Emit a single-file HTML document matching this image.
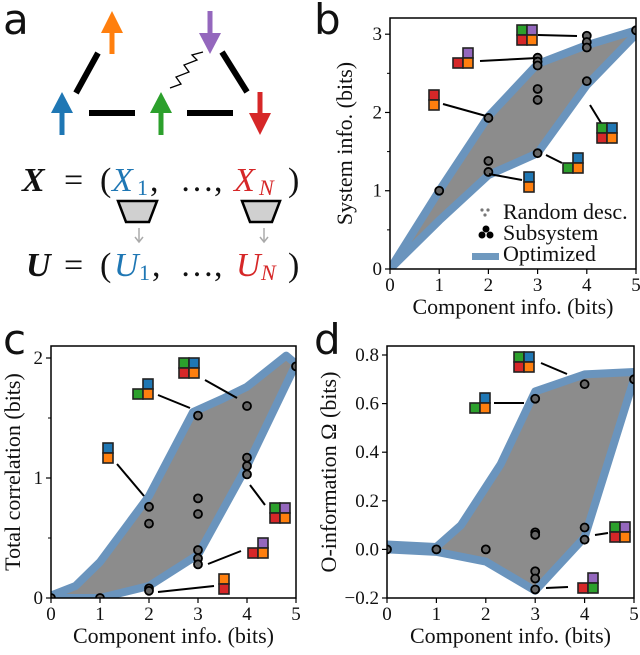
<!DOCTYPE html>
<html><head><meta charset="utf-8"><style>
html,body{margin:0;padding:0;background:#fff;}
svg{display:block;}
.tk{font-family:"Liberation Serif","DejaVu Serif",serif;font-size:19px;fill:#111;}
.lab{font-family:"Liberation Serif","DejaVu Serif",serif;font-size:22px;fill:#111;}
.pl{font-family:"DejaVu Sans","Liberation Sans",sans-serif;font-size:42px;fill:#111;}
.eq{font-family:"Liberation Serif","DejaVu Serif",serif;font-size:34px;fill:#111;}
.eq.bl,.sub.bl{fill:#1f77b4;}
.eq.rd,.sub.rd{fill:#d62728;}
.sub{font-family:"Liberation Serif",serif;font-size:22px;}
</style></head><body>
<svg id="fig" width="640" height="655" viewBox="0 0 640 655" xmlns="http://www.w3.org/2000/svg">
<text class="pl" x="3" y="34">a</text>
<text class="pl" x="314" y="34">b</text>
<text class="pl" x="3" y="354">c</text>
<text class="pl" x="314" y="354">d</text>

<g>
  <g stroke="#000" stroke-width="6">
    <line x1="76" y1="93" x2="98" y2="53"/>
    <line x1="89" y1="113" x2="135" y2="113"/>
    <line x1="187" y1="113" x2="233" y2="113"/>
    <line x1="222" y1="52" x2="247" y2="92"/>
  </g>
  <polyline points="170,88 181,84 176,77 189,72 184,65 197,60 192,55 203,52" fill="none" stroke="#000" stroke-width="1.3"/>
  <g>
    <line x1="112" y1="54" x2="112" y2="30" stroke="#ff7f0e" stroke-width="5"/><polygon points="101,33 123,33 112,11" fill="#ff7f0e"/>
    <line x1="62" y1="135" x2="62" y2="110" stroke="#1f77b4" stroke-width="5"/><polygon points="51,113 73,113 62,92" fill="#1f77b4"/>
    <line x1="161" y1="135" x2="161" y2="110" stroke="#2ca02c" stroke-width="5"/><polygon points="150,113 172,113 161,92" fill="#2ca02c"/>
    <line x1="210" y1="11" x2="210" y2="36" stroke="#9467bd" stroke-width="5"/><polygon points="199,33 221,33 210,54" fill="#9467bd"/>
    <line x1="260" y1="92" x2="260" y2="116" stroke="#d62728" stroke-width="5"/><polygon points="249,113 271,113 260,135" fill="#d62728"/>
  </g>
  <g>
    <text class="eq" x="22" y="191" font-weight="bold" font-style="italic">X</text>
    <text class="eq" x="64" y="191">=</text>
    <text class="eq" x="100" y="191">(</text>
    <text class="eq bl" x="112" y="191" font-style="italic">X</text>
    <text class="sub bl" x="137" y="195">1</text>
    <text class="eq" x="150" y="191">,</text>
    <text class="eq" x="180" y="191">…,</text>
    <text class="eq rd" x="234" y="191" font-style="italic">X</text>
    <text class="sub rd" x="259" y="195" font-style="italic">N</text>
    <text class="eq" x="288" y="191">)</text>
  </g>
  <polygon points="118,201 157,201 149,222 126,222" fill="#d0d0d0" stroke="#000" stroke-width="2.5"/>
  <polygon points="242,201 280,201 272,222 250,222" fill="#d0d0d0" stroke="#000" stroke-width="2.5"/>
  <g stroke="#aaa" stroke-width="1.5" fill="none">
    <line x1="139" y1="228" x2="139" y2="242"/><polyline points="135,237 139,242 143,237"/>
    <line x1="264" y1="228" x2="264" y2="242"/><polyline points="260,237 264,242 268,237"/>
  </g>
  <g>
    <text class="eq" x="26" y="276" font-weight="bold" font-style="italic">U</text>
    <text class="eq" x="64" y="276">=</text>
    <text class="eq" x="100" y="276">(</text>
    <text class="eq bl" x="114" y="276" font-style="italic">U</text>
    <text class="sub bl" x="139" y="280">1</text>
    <text class="eq" x="152" y="276">,</text>
    <text class="eq" x="180" y="276">…,</text>
    <text class="eq rd" x="236" y="276" font-style="italic">U</text>
    <text class="sub rd" x="261" y="280" font-style="italic">N</text>
    <text class="eq" x="288" y="276">)</text>
  </g>
</g>
<g id="charts"></g>
</svg>
<script>
// ---- Panel b data ----
const bUpperX=[0,1,2,3,4,5], bUpperY=[0,1.0,1.95,2.62,2.86,3.05];
const bLowerX=[0,1,2,3,4,5], bLowerY=[0,0.62,1.2,1.48,2.35,3.0];
const bPtsX=[1,2,2,2,3,3,3,3,3,3,4,4,4,4,5];
const bPtsY=[1,1.93,1.38,1.24,2.7,2.65,2.6,2.3,2.16,1.48,2.98,2.9,2.83,2.4,3.05];
const bYTicks=[0,1,2,3];
// ---- Panel c data ----
const cUpperX=[0,0.5,1,2,2.9,3.5,4,4.8,5], cUpperY=[0.02,0.1,0.3,0.85,1.55,1.66,1.76,2.02,1.95];
const cLowerX=[0,1,2,3,4,5], cLowerY=[0,0,0.1,0.36,1.1,1.95];
const cPtsX=[0,1,2,2,2,2,3,3,3,3,3,3,4,4,4,4,5];
const cPtsY=[0,0,0.76,0.62,0.08,0.06,1.52,0.83,0.7,0.4,0.33,0.28,1.6,1.17,1.1,1.03,1.93];
const cYTicks=[0,1,2];
// ---- Panel d data ----
const dUpperX=[0,1,1.5,2.3,3,4,5], dUpperY=[0.02,0.01,0.1,0.35,0.65,0.72,0.73];
const dLowerX=[0,1,2,3,4,5], dLowerY=[0,-0.01,-0.05,-0.17,0.05,0.7];
const dPtsX=[0,1,2,3,3,3,3,3,3,4,4,4,5];
const dPtsY=[0,0,0,0.62,0.07,0.06,-0.09,-0.12,-0.165,0.68,0.09,0.04,0.7];
const dYTicks=[-0.2,0,0.2,0.4,0.6,0.8];
const xTicks=[0,1,2,3,4,5];

const NS='http://www.w3.org/2000/svg';
const root=document.getElementById('charts');
function mk(tag,attrs,parent){const e=document.createElementNS(NS,tag);for(const k in attrs)e.setAttribute(k,attrs[k]);(parent||root).appendChild(e);return e;}
const COL={b:'#1f77b4',o:'#ff7f0e',g:'#2ca02c',r:'#d62728',p:'#9467bd'};
function icon(x,y,cells,name){
  const g=mk('g',{});
  
  
  const s=10;
  cells.forEach(c=>{mk('rect',{x:x+c[0]*s,y:y+c[1]*s,width:s,height:s,fill:COL[c[2]],stroke:'#222','stroke-width':1.6},g);});
}
function panel(cfg){
  const {L,R,T,B,xmin,xmax,ymin,ymax,name}=cfg;
  const sx=v=>L+(v-xmin)/(xmax-xmin)*(R-L);
  const sy=v=>B-(v-ymin)/(ymax-ymin)*(B-T);
  const g=mk('g',{});
  
  
  const cp='clip-'+name;
  const cl=mk('clipPath',{id:cp},g);mk('rect',{x:L,y:T,width:R-L,height:B-T},cl);
  const inner=mk('g',{'clip-path':'url(#'+cp+')'},g);
  let pts=[];
  cfg.ux.forEach((v,i)=>pts.push(sx(v)+','+sy(cfg.uy[i])));
  for(let i=cfg.lx.length-1;i>=0;i--)pts.push(sx(cfg.lx[i])+','+sy(cfg.ly[i]));
  const cloud=mk('polygon',{points:pts.join(' '),fill:'#8c8c8c'},inner);
  
  
  const up=mk('polyline',{points:cfg.ux.map((v,i)=>sx(v)+','+sy(cfg.uy[i])).join(' '),fill:'none',stroke:'#6a94bd','stroke-width':8,'stroke-linejoin':'round'},inner);
  
  
  const lo=mk('polyline',{points:cfg.lx.map((v,i)=>sx(v)+','+sy(cfg.ly[i])).join(' '),fill:'none',stroke:'#6a94bd','stroke-width':8,'stroke-linejoin':'round'},inner);
  
  
  (cfg.callouts||[]).forEach(c=>{mk('line',{x1:c[0],y1:c[1],x2:c[2],y2:c[3],stroke:'#000','stroke-width':2},g);});
  cfg.px.forEach((v,i)=>{
    const c=mk('circle',{cx:sx(v),cy:sy(cfg.py[i]),r:4,fill:'#666',stroke:'#000','stroke-width':1.8},inner);
    
    
  });
  mk('rect',{x:L,y:T,width:R-L,height:B-T,fill:'none',stroke:'#000','stroke-width':1.5},g);
  xTicks.forEach(t=>{
    mk('line',{x1:sx(t),y1:B,x2:sx(t),y2:B+5,stroke:'#000','stroke-width':1.2},g);
    const tx=mk('text',{x:sx(t),y:B+22,'text-anchor':'middle',class:'tk'},g);tx.textContent=t;
    
    
  });
  cfg.yt.forEach((t,i)=>{
    mk('line',{x1:L-5,y1:sy(t),x2:L,y2:sy(t),stroke:'#000','stroke-width':1.2},g);
    if(cfg.minor&&i<cfg.yt.length-1){const m=(t+cfg.yt[i+1])/2;mk('line',{x1:L-3,y1:sy(m),x2:L,y2:sy(m),stroke:'#000','stroke-width':1},g);}
    const tx=mk('text',{x:L-8,y:sy(t)+6,'text-anchor':'end',class:'tk'},g);
    tx.textContent=cfg.fmt?(t<0?'\u2212':'')+Math.abs(t).toFixed(1):t;
    
    
  });
  const xl=mk('text',{x:(L+R)/2,y:B+45,'text-anchor':'middle',class:'lab'},g);xl.textContent='Component info. (bits)';
  
  
  const yl=mk('text',{x:0,y:0,'text-anchor':'middle',class:'lab',transform:'translate('+cfg.ylx+','+(T+B)/2+') rotate(-90)'},g);yl.textContent=cfg.ylabel;
  
  
}
panel({name:'panel-b',L:390,R:636,T:18,B:269,xmin:0,xmax:5,ymin:0,ymax:3.207,ux:bUpperX,uy:bUpperY,lx:bLowerX,ly:bLowerY,px:bPtsX,py:bPtsY,yt:bYTicks,minor:true,ylx:352,ylabel:'System info. (bits)',
  callouts:[[538,35,577,36],[480,61,537,58],[443,104,486,116],[590,105,601,123],[546,155,562,163],[489,174,522,180]]});
panel({name:'panel-c',L:51,R:296,T:346,B:598,xmin:0,xmax:5,ymin:0,ymax:2.1,ux:cUpperX,uy:cUpperY,lx:cLowerX,ly:cLowerY,px:cPtsX,py:cPtsY,yt:cYTicks,minor:true,ylx:20,ylabel:'Total correlation (bits)',
  callouts:[[205,380,237,398],[158,395,190,408],[117,464,144,496],[250,485,265,505],[208,564,241,551],[158,592,214,586]]});
panel({name:'panel-d',L:387,R:634,T:346,B:598,xmin:0,xmax:5,ymin:-0.2,ymax:0.837,ux:dUpperX,uy:dUpperY,lx:dLowerX,ly:dLowerY,px:dPtsX,py:dPtsY,yt:dYTicks,minor:false,fmt:true,ylx:336,ylabel:'O-information \u03a9 (bits)',
  callouts:[[541,363,567,374],[494,403,524,403],[595,535,608,533],[546,588,568,587]]});
icon(517,25,[[0,0,'g'],[1,0,'p'],[0,1,'r'],[1,1,'o']],'icon-b-4');
icon(453,48,[[1,0,'p'],[0,1,'r'],[1,1,'o']],'icon-b-3');
icon(429,90,[[0,0,'r'],[0,1,'o']],'icon-b-2');
icon(597,123,[[0,0,'g'],[1,0,'b'],[0,1,'r'],[1,1,'o']],'icon-b-4b');
icon(563,153,[[1,0,'b'],[0,1,'g'],[1,1,'o']],'icon-b-3b');
icon(524,172,[[0,0,'b'],[0,1,'o']],'icon-b-2b');
icon(179,358,[[0,0,'g'],[1,0,'b'],[0,1,'r'],[1,1,'o']],'icon-c-4');
icon(133,379,[[1,0,'b'],[0,1,'g'],[1,1,'o']],'icon-c-3');
icon(103,443,[[0,0,'b'],[0,1,'o']],'icon-c-2');
icon(270,503,[[0,0,'g'],[1,0,'p'],[0,1,'r'],[1,1,'o']],'icon-c-4b');
icon(248,538,[[1,0,'p'],[0,1,'r'],[1,1,'o']],'icon-c-3b');
icon(219,574,[[0,0,'o'],[0,1,'r']],'icon-c-2b');
icon(514,352,[[0,0,'g'],[1,0,'b'],[0,1,'r'],[1,1,'o']],'icon-d-4');
icon(470,393,[[1,0,'b'],[0,1,'g'],[1,1,'o']],'icon-d-3');
icon(610,522,[[0,0,'g'],[1,0,'p'],[0,1,'r'],[1,1,'o']],'icon-d-4b');
icon(578,573,[[1,0,'p'],[0,1,'r'],[1,1,'g']],'icon-d-3b');
const lg=mk('g',{});


[[479,209],[485,209],[482,214]].forEach(p=>mk('circle',{cx:p[0]+3,cy:p[1]+1,r:1.6,fill:'#777'},lg));
[[480,235],[488,235],[484,229]].forEach(p=>mk('circle',{cx:p[0]+2,cy:p[1],r:3.5,fill:'#000'},lg));
mk('rect',{x:472,y:253,width:27,height:7,fill:'#6f99bf'},lg);
[['Random desc.',219],['Subsystem',240],['Optimized',261]].forEach(t=>{const e=mk('text',{x:503,y:t[1],class:'lab'},lg);e.textContent=t[0];
  
  });
</script>
</body></html>
